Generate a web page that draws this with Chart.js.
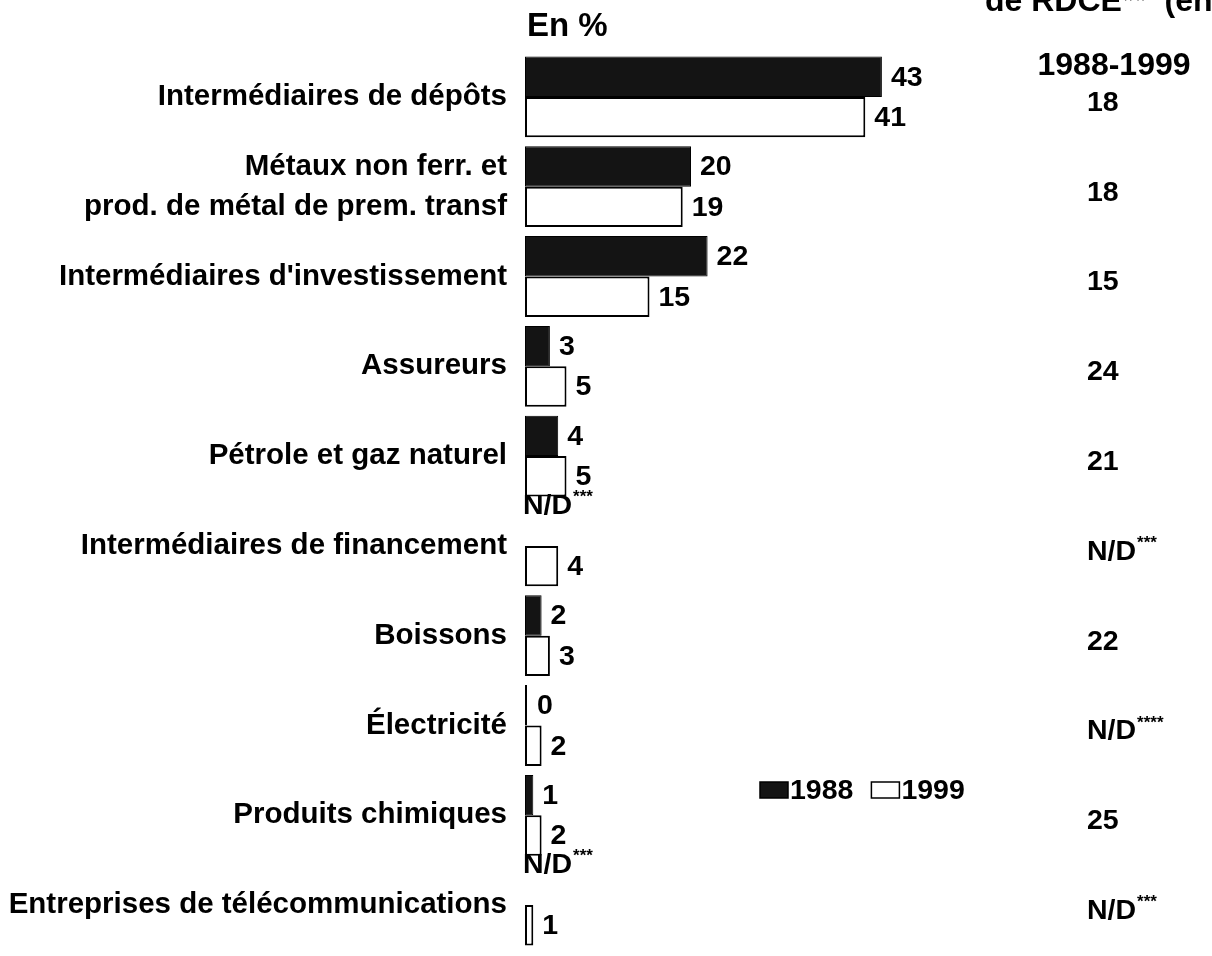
<!DOCTYPE html>
<html>
<head>
<meta charset="utf-8">
<script src="https://cdn.jsdelivr.net/npm/chart.js@4.4.1/dist/chart.umd.min.js"></script>
<style>
  html, body { margin: 0; padding: 0; background: #fff; }
  #wrap { position: relative; width: 1212px; height: 956px; }
</style>
</head>
<body>
<div id="wrap"><canvas id="myChart" width="1212" height="956"></canvas></div>
<script>
'use strict';

const categories = [
  'Intermédiaires de dépôts',
  ['Métaux non ferr. et', 'prod. de métal de prem. transf'],
  "Intermédiaires d'investissement",
  'Assureurs',
  'Pétrole et gaz naturel',
  'Intermédiaires de financement',
  'Boissons',
  'Électricité',
  'Produits chimiques',
  'Entreprises de télécommunications'
];
const values1988 = [43, 20, 22, 3, 4, null, 2, 0, 1, null];
const values1999 = [41, 19, 15, 5, 5, 4, 3, 2, 2, 1];
const rdceGrowth = ['18', '18', '15', '24', '21', 'N/D***', '22', 'N/D****', '25', 'N/D***'];
const seriesNames = ['1988', '1999'];

const FONT = '"Liberation Sans", Arial, sans-serif';
const FS = 28.5;

// draws "N/D***" with the stars raised and smaller
function drawNote(ctx, text, x, y, size) {
  let k = text.indexOf('*');
  let main = k < 0 ? text : text.slice(0, k);
  let stars = k < 0 ? '' : text.slice(k);
  ctx.font = 'bold ' + size + 'px ' + FONT;
  ctx.textBaseline = 'middle';
  ctx.textAlign = 'left';
  ctx.fillText(main, x, y);
  let w = ctx.measureText(main).width;
  ctx.font = 'bold ' + Math.round(size * 0.6) + 'px ' + FONT;
  ctx.fillText(stars, x + w + 1, y - size * 0.3);
}

const extras = {
  id: 'extras',
  afterDatasetsDraw(chart) {
    const ctx = chart.ctx;
    const area = chart.chartArea;
    ctx.save();
    ctx.fillStyle = '#000';

    // values next to bars
    chart.data.datasets.forEach(function(ds, d) {
      let meta = chart.getDatasetMeta(d);
      meta.data.forEach(function(bar, i) {
        let v = ds.data[i];
        if (v === null) {
          drawNote(ctx, 'N/D***', area.left - 2, bar.y - 20, FS);
        } else {
          ctx.font = 'bold ' + FS + 'px ' + FONT;
          ctx.textAlign = 'left';
          ctx.textBaseline = 'middle';
          ctx.fillText(String(v), Math.max(bar.x, area.left + 3) + 9, bar.y + 1);
        }
      });
    });

    // right-hand column
    let ys = chart.scales.y;
    rdceGrowth.forEach(function(txt, i) {
      let y = ys.getPixelForValue(i) + 6;
      if (txt.indexOf('*') >= 0) {
        drawNote(ctx, txt, 1087, y, FS);
      } else {
        ctx.font = 'bold ' + FS + 'px ' + FONT;
        ctx.textAlign = 'left';
        ctx.textBaseline = 'middle';
        ctx.fillText(txt, 1087, y);
      }
    });

    // headers
    ctx.textBaseline = 'alphabetic';
    ctx.textAlign = 'left';
    ctx.font = 'bold 33px ' + FONT;
    ctx.fillText('En %', 527, 36);
    ctx.font = 'bold 32px ' + FONT;
    ctx.fillText('de RDCE**  (en %)', 985, 11);
    ctx.textAlign = 'center';
    ctx.fillText('1988-1999', 1114, 75);

    // legend
    let lx = 760, ly = 790;
    chart.data.datasets.forEach(function(ds, d) {
      ctx.fillStyle = ds.backgroundColor;
      ctx.fillRect(lx, ly - 8, 28, 16);
      ctx.strokeStyle = '#000';
      ctx.lineWidth = 1.5;
      ctx.strokeRect(lx, ly - 8, 28, 16);
      ctx.fillStyle = '#000';
      ctx.font = 'bold ' + FS + 'px ' + FONT;
      ctx.textAlign = 'left';
      ctx.textBaseline = 'middle';
      ctx.fillText(seriesNames[d], lx + 30, ly + 1);
      lx += 30 + ctx.measureText(seriesNames[d]).width + 18;
    });
    ctx.restore();
  }
};

const chart = document.getElementById('myChart');
const myChart = new Chart(chart, {
  type: 'bar',
  data: {
    labels: categories,
    datasets: [{
      label: seriesNames[0],
      data: values1988,
      backgroundColor: '#141414',
      borderColor: '#000',
      borderWidth: 1,
      borderSkipped: false,
      minBarLength: 2,
    }, {
      label: seriesNames[1],
      data: values1999,
      backgroundColor: '#ffffff',
      borderColor: '#000',
      borderWidth: 2,
      borderSkipped: false,
    }],
  },
  options: {
    responsive: false,
    animation: false,
    indexAxis: 'y',
    categoryPercentage: 0.9,
    barPercentage: 1.0,
    layout: { padding: { left: 0, right: 189, top: 52, bottom: 6 } },
    plugins: {
      legend: { display: false },
      tooltip: { enabled: false },
    },
    scales: {
      x: {
        display: false,
        min: 0,
        max: 60,
      },
      y: {
        grid: { display: false },
        border: { display: false },
        ticks: {
          color: '#000',
          padding: 10,
          font: { family: FONT, size: 29.5, weight: 'bold', lineHeight: 1.35 },
        },
        afterFit(scale) {
          scale.width = 525;
          scale.paddingTop = 0;
          scale.paddingBottom = 0;
        },
      },
    },
  },
  plugins: [extras],
});
</script>
</body>
</html>
